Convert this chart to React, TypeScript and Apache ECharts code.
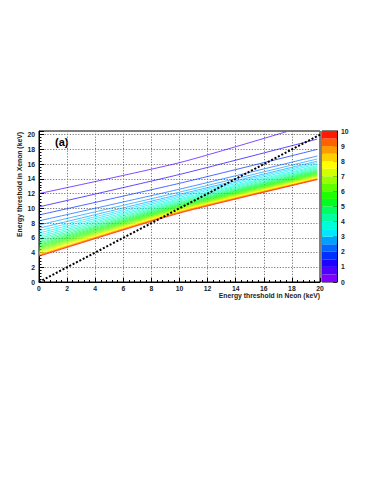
import React, { useEffect, useRef } from 'react';
import * as echarts from 'echarts';

// Colour palette of the z scale (20 bands, 0..10)
const palette = [
  '#7f00ff', '#4f00ff', '#2000ff', '#0030ff', '#0068ff', '#00a0ff', '#00e8ff', '#00ffd8', '#00ffa0', '#00ff60',
  '#00ff20', '#20ff00', '#5cff00', '#98ff00', '#d4ff00', '#ffff00', '#ffd000', '#ff9a00', '#ff6000', '#ff1a00',
];

// Threshold curves: y at x=0, y at x=10, end point
const y0s = [12.0, 10.2, 9.1, 8.3, 7.75, 7.3, 6.95, 6.65, 6.38, 6.13, 5.9, 5.68, 5.48, 5.3, 5.13, 4.97, 4.82, 4.68, 4.55, 4.43, 4.31, 4.2, 4.1, 4.0, 3.9, 3.81, 3.72, 3.64, 3.57, 3.5];
const y10s = [16.2, 14.6, 13.4, 12.6, 12.2, 11.9, 11.7, 11.5, 11.3, 11.15, 11.0, 10.85, 10.72, 10.6, 10.49, 10.38, 10.28, 10.19, 10.1, 10.02, 9.94, 9.87, 9.8, 9.73, 9.67, 9.61, 9.55, 9.49, 9.42, 9.35];
const endXs = [17.6, 19.8, 19.8, 19.8, 19.8, 19.8, 19.8, 19.8, 19.8, 19.8, 19.8, 19.8, 19.8, 19.8, 19.8, 19.8, 19.8, 19.8, 19.8, 19.8, 19.8, 19.8, 19.8, 19.8, 19.8, 19.8, 19.8, 19.8, 19.8, 19.8];
const yEnds = [20.4, 19.4, 18.0, 17.1, 16.7, 16.4, 16.2, 16.0, 15.8, 15.65, 15.5, 15.35, 15.22, 15.1, 14.99, 14.88, 14.78, 14.69, 14.6, 14.52, 14.44, 14.37, 14.3, 14.23, 14.17, 14.11, 14.05, 13.99, 13.95, 13.9];
const lineZ = [0.75, 1.25, 1.75, 2.25, 2.75, 2.75, 3.25, 3.25, 3.75, 3.75, 4.25, 4.25, 4.75, 4.75, 5.25, 5.25, 5.75, 5.75, 6.25, 6.25, 6.75, 6.75, 7.25, 7.25, 7.75, 7.75, 8.25, 8.75, 9.25, 9.75];

// Equal-threshold diagonal
const diagonal = [[0, 0], [20, 20]];

const FONT = '"Liberation Sans", Arial, sans-serif';

export default function App() {
  const ref = useRef<HTMLDivElement>(null);
  useEffect(() => {
    if (!ref.current) return;
    const chart = echarts.init(ref.current, undefined, { renderer: 'svg' });
    const labelStyle = { fontFamily: FONT, fontSize: 6.8, fontWeight: 'bold', color: '#222' };

    const curveSeries = y0s.map((y0, i) => ({
      type: 'line',
      xAxisIndex: 0,
      yAxisIndex: 0,
      data: [[0, y0], [10, y10s[i]], [endXs[i], yEnds[i]]],
      smooth: 0.2,
      showSymbol: false,
      symbol: 'none',
      lineStyle: { width: 0.9, opacity: 0.8, color: palette[Math.min(19, Math.floor(lineZ[i] / 0.5))] },
      z: 3,
    }));

    const barSeries = palette.map((c) => ({
      type: 'bar',
      xAxisIndex: 1,
      yAxisIndex: 1,
      stack: 'cb',
      data: [0.5],
      barWidth: '100%',
      itemStyle: { color: c },
      z: 2,
    }));

    chart.setOption({
      animation: false,
      backgroundColor: '#fff',
      grid: [
        { left: 39, top: 131, width: 281, height: 151, show: true, borderColor: '#000', borderWidth: 1, backgroundColor: 'transparent' },
        { left: 322, top: 131, width: 15, height: 151, show: true, borderColor: '#000', borderWidth: 1, backgroundColor: 'transparent' },
      ],
      xAxis: [
        {
          gridIndex: 0,
          type: 'value',
          min: 0,
          max: 20,
          interval: 2,
          axisLine: { show: true, lineStyle: { color: '#000', width: 1 } },
          axisTick: { show: true, inside: true, length: 4, lineStyle: { color: '#000' } },
          minorTick: { show: true, splitNumber: 5, length: 2, lineStyle: { color: '#000' } },
          axisLabel: { ...labelStyle, margin: 3 },
          splitLine: { show: true, lineStyle: { type: [1.2, 1.6], color: '#777', width: 1 } },
        },
        {
          gridIndex: 1,
          type: 'category',
          data: ['z'],
          show: false,
        },
      ],
      yAxis: [
        {
          gridIndex: 0,
          type: 'value',
          min: 0,
          max: 20.5,
          interval: 2,
          axisLine: { show: true, lineStyle: { color: '#000', width: 1 } },
          axisTick: { show: true, inside: true, length: 5, lineStyle: { color: '#000' } },
          minorTick: { show: true, splitNumber: 5, length: 2.5, lineStyle: { color: '#000' } },
          axisLabel: { ...labelStyle, margin: 4, formatter: (v: number) => (v % 2 === 0 ? String(v) : '') },
          splitLine: { show: true, lineStyle: { type: [1.2, 1.6], color: '#777', width: 1 } },
        },
        {
          gridIndex: 1,
          type: 'value',
          position: 'right',
          min: 0,
          max: 10,
          interval: 1,
          axisLine: { show: true, lineStyle: { color: '#000', width: 1 } },
          axisTick: { show: true, inside: true, length: 4, lineStyle: { color: '#222' } },
          axisLabel: { ...labelStyle, margin: 4 },
          splitLine: { show: false },
        },
      ],
      series: [
        ...barSeries,
        ...curveSeries,
        {
          type: 'line',
          xAxisIndex: 0,
          yAxisIndex: 0,
          data: diagonal,
          showSymbol: false,
          symbol: 'none',
          lineStyle: { width: 2, color: '#000', type: [2, 1.8] },
          z: 4,
        },
      ],
      graphic: [
        {
          type: 'text',
          x: 19,
          y: 132,
          rotation: Math.PI / 2,
          style: { text: 'Energy threshold in Xenon (keV)', align: 'right', verticalAlign: 'middle', font: `bold 6.8px ${FONT}`, fill: '#222' },
        },
        {
          type: 'text',
          x: 320,
          y: 295,
          style: { text: 'Energy threshold in Neon (keV)', align: 'right', verticalAlign: 'middle', font: `bold 6.8px ${FONT}`, fill: '#222' },
        },
        {
          type: 'text',
          x: 55,
          y: 142,
          style: { text: '(a)', align: 'left', verticalAlign: 'middle', font: `bold 11px ${FONT}`, fill: '#000' },
        },
      ],
    });
    return () => chart.dispose();
  }, []);
  return <div ref={ref} style={{ position: 'absolute', left: 0, top: 0, width: 388, height: 502 }} />;
}
